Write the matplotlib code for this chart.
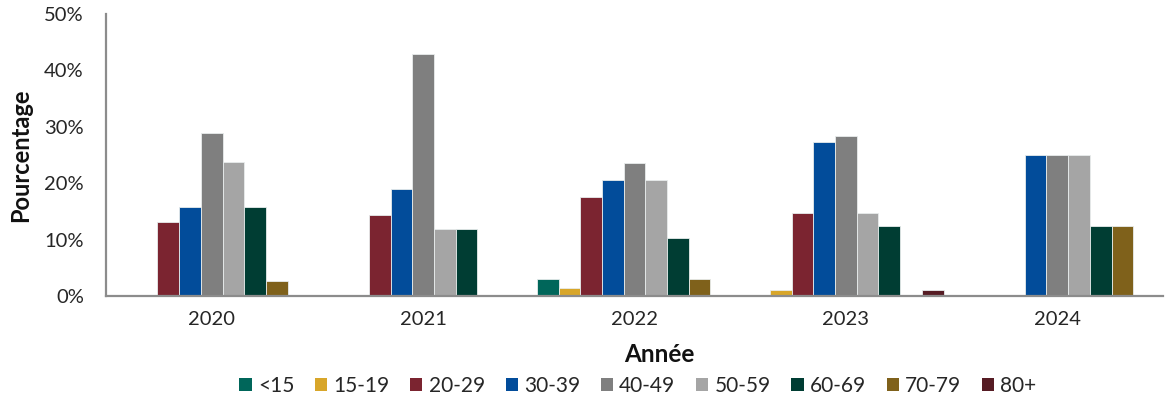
import matplotlib
matplotlib.use("Agg")
import matplotlib.pyplot as plt
import numpy as np

plt.rcParams['font.family'] = ['Lato', 'DejaVu Sans']

years = ["2020", "2021", "2022", "2023", "2024"]
age_groups = ["<15", "15-19", "20-29", "30-39", "40-49", "50-59", "60-69", "70-79", "80+"]

# Percentage of cases per age group, one list per age group (values per year)
pct_lt15 = [0.0, 0.0, 2.94, 0.0, 0.0]
pct_15_19 = [0.0, 0.0, 1.47, 1.14, 0.0]
pct_20_29 = [13.2, 14.3, 17.6, 14.77, 0.0]
pct_30_39 = [15.8, 19.0, 20.6, 27.27, 25.0]
pct_40_49 = [28.9, 42.9, 23.5, 28.4, 25.0]
pct_50_59 = [23.7, 11.9, 20.6, 14.77, 25.0]
pct_60_69 = [15.8, 11.9, 10.3, 12.5, 12.5]
pct_70_79 = [2.6, 0.0, 2.94, 0.0, 12.5]
pct_80p = [0.0, 0.0, 0.0, 1.14, 0.0]

series = [pct_lt15, pct_15_19, pct_20_29, pct_30_39, pct_40_49,
          pct_50_59, pct_60_69, pct_70_79, pct_80p]
colors = ["#00665A", "#D8A62A", "#7B2430", "#024C9A", "#7F7F7F",
          "#A5A5A5", "#003D33", "#7F611B", "#561C24"]

W, H = 1165, 400
fig = plt.figure(figsize=(W / 100, H / 100), dpi=100)
ax = fig.add_axes([106 / W, 1 - 296 / H, (1163 - 106) / W, (296 - 14) / H])

x = np.arange(len(years))
n = len(series)
width = 0.924 / n
for i, (vals, col, lab) in enumerate(zip(series, colors, age_groups)):
    offs = (i - (n - 1) / 2) * width
    ax.bar(x + offs, vals, width=width, color=col, label=lab,
           edgecolor="#E8ECEC", linewidth=0.6)

ax.set_xlim(-0.5, len(years) - 0.5)
ax.set_ylim(0, 50)
ax.set_yticks(np.arange(0, 51, 10))
ax.set_yticklabels([f"{v}%" for v in range(0, 51, 10)])
ax.set_xticks(x)
ax.set_xticklabels(years)
ax.tick_params(axis="both", length=0, labelsize=14.5, colors="#262626")
ax.tick_params(axis="y", pad=16)
ax.tick_params(axis="x", pad=11)

for side in ["top", "right"]:
    ax.spines[side].set_visible(False)
for side in ["left", "bottom"]:
    ax.spines[side].set_color("#8C8C8C")
    ax.spines[side].set_linewidth(1.6)

fig.text(21 / W, 1 - 155 / H, "Pourcentage", fontsize=17, fontweight="bold",
         color="#111111", rotation=90, ha="center", va="center")
fig.text(659 / W, 1 - 355 / H, "Année", fontsize=17.5, fontweight="bold",
         color="#111111", ha="center", va="center")

handles, labels = ax.get_legend_handles_labels()
leg = fig.legend(handles, labels, loc="center", bbox_to_anchor=(638 / W, 1 - 386 / H),
                 ncol=9, frameon=False, fontsize=15, handlelength=0.58,
                 handleheight=0.58, handletextpad=0.3, columnspacing=1.0,
                 borderaxespad=0, borderpad=0)
for t in leg.get_texts():
    t.set_color("#262626")
for h in leg.legend_handles:
    h.set_edgecolor("none")

fig.savefig("out.png", dpi=100, facecolor="white")
